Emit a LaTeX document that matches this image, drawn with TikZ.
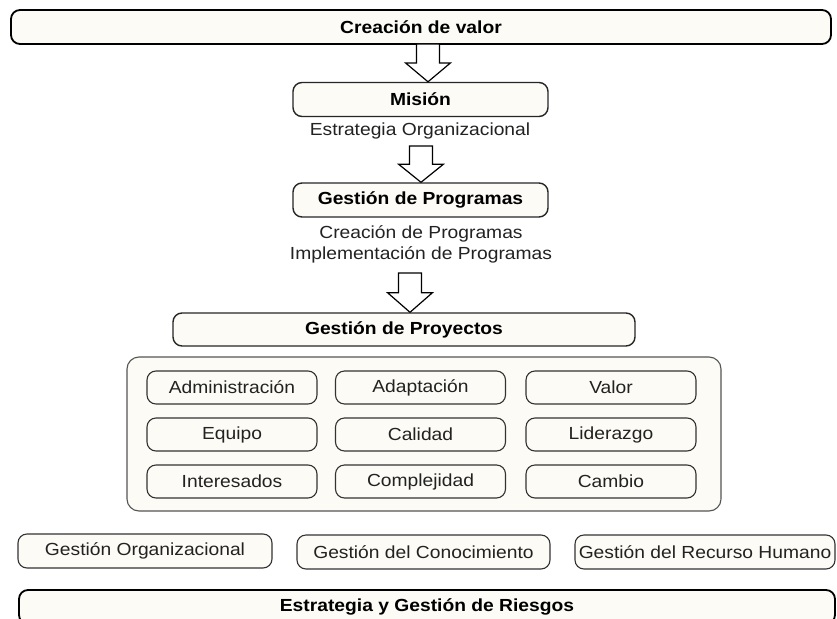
\documentclass[tikz,border=0pt]{standalone}
\usepackage{fontspec}
\setmainfont{Liberation Sans}[FakeStretch=1.1]
\usetikzlibrary{calc}
\definecolor{cream}{HTML}{FDFBF5}
\definecolor{edge}{HTML}{333333}
\definecolor{frame}{HTML}{555555}
\definecolor{ink}{HTML}{222222}

% block arrow pointing down, from (#1) to tip (#2)
\newcommand{\blockdown}[2]{%
  \path (#1) coordinate (ba) (#2) coordinate (bb) ($(ba)!0.5!(bb)$) coordinate (bm);
  \draw[blockarrow] ($(ba)+(-11.5,0)$) -- ($(ba)+(11.5,0)$) -- ($(bm)+(11.5,0)$)
    -- ($(bm)+(22.5,0)$) -- (bb) -- ($(bm)+(-22.5,0)$) -- ($(bm)+(-11.5,0)$) -- cycle;}

\begin{document}
\begin{tikzpicture}[
  x=1pt, y=-1pt,
  every node/.style={font=\fontsize{17.5}{20}\selectfont, text=ink},
  bar/.style={draw=black, line width=1.8pt, fill=cream, rounded corners=9pt,
    minimum height=34pt, font=\fontsize{17.5}{20}\selectfont\bfseries, text=black},
  head/.style={draw=black!85, line width=1.4pt, fill=cream, rounded corners=9pt,
    minimum width=255pt, minimum height=34pt, font=\fontsize{17.5}{20}\selectfont\bfseries, text=black},
  item/.style={draw=edge, line width=1.1pt, fill=cream, rounded corners=9pt,
    minimum width=170pt, minimum height=33pt},
  side/.style={draw=edge, line width=1.1pt, fill=cream, rounded corners=9pt,
    minimum height=34pt, inner sep=2pt},
  blockarrow/.style={draw=black, line width=1.2pt, fill=white, line join=miter}
]
  \clip (0,0) rectangle (837,618);
  \fill[white] (0,0) rectangle (837,618);

  % top of the chain
  \node[bar, minimum width=820pt] (valor) at (421,27) {Creación de valor};
  \node[head] (mision) at (420.5,99.5) {Misión};
  \node (estrat) at (420,131) {Estrategia Organizacional};
  \node[head] (program) at (420.5,200) {Gestión de Programas};
  \node (crea) at (421,234) {Creación de Programas};
  \node (impl) at (421,255) {Implementación de Programas};
  \node[head, minimum width=462pt, minimum height=33pt] (proy) at (404,329.5) {Gestión de Proyectos};

  % arrows
  \coordinate (a1) at (428,44);
  \coordinate (a2) at (421,146);
  \coordinate (a3) at (410,273);
  \blockdown{a1}{a1 |- mision.north}
  \blockdown{a2}{a2 |- program.north}
  \blockdown{a3}{a3 |- proy.north}

  % principles
  \node[draw=frame, line width=1.1pt, fill=cream, rounded corners=12pt,
    minimum width=594pt, minimum height=154pt] (marco) at (424,434) {};
  \node[item] (adm) at (232,387.5) {Administración};
  \node[item] (adap) at (420.5,387.5) {Adaptación};
  \node[item] (val) at (611,387.5) {Valor};
  \node[item] (equi) at (232,434.5) {Equipo};
  \node[item] (cal) at (420.5,434.5) {Calidad};
  \node[item] (lid) at (611,434.5) {Liderazgo};
  \node[item] (inte) at (232,481.5) {Interesados};
  \node[item] (comp) at (420.5,481.5) {Complejidad};
  \node[item] (camb) at (611,481.5) {Cambio};

  % supporting areas
  \node[side, minimum width=254pt] (org) at (145,551) {Gestión Organizacional};
  \node[side, minimum width=253pt] (cono) at (423.5,552) {Gestión del Conocimiento};
  \node[side, minimum width=260pt] (rrhh) at (705,552) {Gestión del Recurso Humano};
  \node[bar, minimum width=816pt] (riesgo) at (427,607) {Estrategia y Gestión de Riesgos};
\end{tikzpicture}
\end{document}
